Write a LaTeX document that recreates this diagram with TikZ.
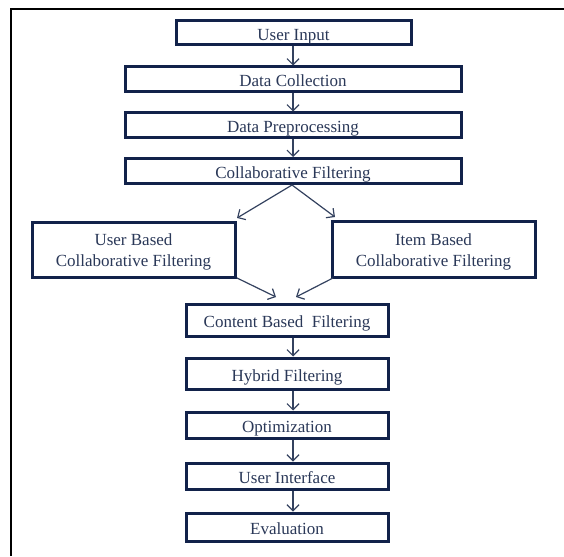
\documentclass[tikz,border=0pt]{standalone}
\usepackage{fontspec}
\setmainfont{Liberation Serif}
\usetikzlibrary{arrows.meta}
\definecolor{boxc}{HTML}{12224A}
\definecolor{txtc}{HTML}{2A3858}
\definecolor{arrc}{HTML}{34425F}
\tikzset{
  box/.style={draw=boxc, line width=3pt, fill=white, text=txtc, inner sep=0pt,
    font=\fontsize{17}{21}\selectfont, align=center, text height=15pt, text depth=0pt},
  twoline/.style={text height=34pt, text depth=0pt},
  conn/.style={draw=arrc, line width=1.2pt, -{Straight Barb[length=6pt,width=12pt]}},
}
\begin{document}
\begin{tikzpicture}[x=1pt,y=-1pt]
\useasboundingbox (0,0) rectangle (564,556);
\draw[line width=2pt, black] (11,556) -- (11,9) -- (564,9);
\node[box, minimum width=235, minimum height=24] (ui) at (293.5,33) {User Input};
\node[box, minimum width=336, minimum height=25] (dc) at (293,79.5) {Data Collection};
\node[box, minimum width=336, minimum height=25] (dp) at (293,125.5) {Data Preprocessing};
\node[box, minimum width=336, minimum height=25] (cf) at (293,171) {Collaborative Filtering};
\node[box, twoline, minimum width=203, minimum height=55] (ub) at (133.5,249.5) {User Based\\Collaborative Filtering};
\node[box, twoline, minimum width=203, minimum height=56] (ib) at (433.5,249) {Item Based\\Collaborative Filtering};
\node[box, minimum width=202, minimum height=32] (cb) at (287,320) {Content Based\ \ Filtering};
\node[box, minimum width=202, minimum height=31] (hf) at (287,373.5) {Hybrid Filtering};
\node[box, minimum width=202, minimum height=26] (op) at (287,425) {Optimization};
\node[box, minimum width=202, minimum height=26] (uif) at (287,476) {User Interface};
\node[box, minimum width=202, minimum height=28] (ev) at (287,527) {Evaluation};
\coordinate (split) at (292,185);
\coordinate (ubt) at (237,218);
\coordinate (ibt) at (335,217);
\coordinate (ubs) at (237,278);
\coordinate (ibs) at (333,278);
\coordinate (cbl) at (276,297);
\coordinate (cbr) at (296,297);
\draw[conn] (ui.south -| 293,0) -- (dc.north -| 293,0);
\draw[conn] (dc.south -| 293,0) -- (dp.north -| 293,0);
\draw[conn] (dp.south -| 293,0) -- (cf.north -| 293,0);
\draw[conn] (split) -- (ubt);
\draw[conn] (split) -- (ibt);
\draw[conn] (ubs) -- (cbl);
\draw[conn] (ibs) -- (cbr);
\draw[conn] (cb.south -| 293,0) -- (hf.north -| 293,0);
\draw[conn] (hf.south -| 293,0) -- (op.north -| 293,0);
\draw[conn] (op.south -| 293,0) -- (uif.north -| 293,0);
\draw[conn] (uif.south -| 293,0) -- (ev.north -| 293,0);
\end{tikzpicture}
\end{document}
